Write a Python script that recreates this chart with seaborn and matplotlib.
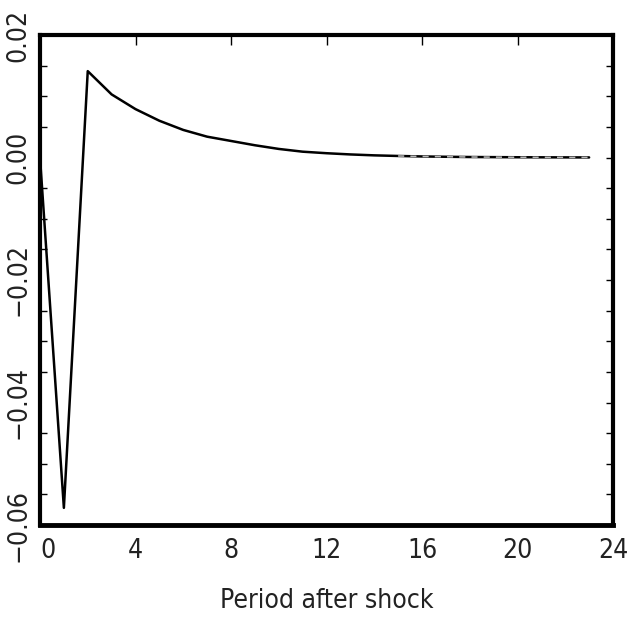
import numpy as np
import pandas as pd
import matplotlib
matplotlib.use("Agg")
import matplotlib.pyplot as plt
import seaborn as sns
from matplotlib.ticker import MultipleLocator, FixedLocator

# Data
periods = list(range(0, 24))
response = [0.0, -0.0572, 0.0141, 0.0103, 0.0079, 0.0060, 0.0045, 0.0034,
            0.0027, 0.0020, 0.0014, 0.00095, 0.0007, 0.0005, 0.00035, 0.00025,
            0.00017, 0.00012, 0.00008, 0.00006, 0.00004, 0.00003, 0.00002, 0.00001]
alt_periods = list(range(15, 24))
alt_response = [0.00025, 0.00017, 0.00012, 0.00008, 0.00006, 0.00004, 0.00003, 0.00002, 0.00001]
x_ticks = [0, 4, 8, 12, 16, 20, 24]
y_ticks = [-0.06, -0.04, -0.02, 0.00, 0.02]
y_labels = ["\u22120.06", "\u22120.04", "\u22120.02", "0.00", "0.02"]
x_label = "Period after shock"

sns.set_theme(style="white")
plt.rcParams['font.family'] = ['DejaVu Sans']

df = pd.DataFrame({"period": periods, "response": response})
df_alt = pd.DataFrame({"period": alt_periods, "response": alt_response})

fig = plt.figure(figsize=(6.37, 6.18), dpi=100)
ax = fig.add_axes([40/637, 93/618, 573/637, 490/618])

sns.lineplot(data=df, x="period", y="response", ax=ax, color="black", lw=1.8)
sns.lineplot(data=df_alt, x="period", y="response", ax=ax, color="#bbbbbb",
             lw=1.1, linestyle=(0, (4, 4)))

ax.set_xlim(0, 24)
ax.set_ylim(-0.06, 0.02)
ax.xaxis.set_major_locator(FixedLocator(x_ticks))
ax.yaxis.set_major_locator(FixedLocator(y_ticks))
ax.yaxis.set_minor_locator(MultipleLocator(0.005))

fp = dict(family="DejaVu Sans", fontsize=19, fontweight="light",
          fontstretch="condensed", color="#222222")
ax.set_xticklabels([str(v) for v in x_ticks], **fp)
ax.set_yticklabels(y_labels, rotation=90, va="center", **fp)
ax.get_xticklabels()[0].set_ha("left")
ax.set_xlabel(x_label, labelpad=18, **fp)
ax.set_ylabel("")

ax.tick_params(axis="both", which="both", direction="in", top=True, right=True,
               color="black", width=1.0)
ax.tick_params(axis="x", which="major", length=7, pad=9)
ax.tick_params(axis="y", which="major", length=5, pad=6)
ax.tick_params(axis="y", which="minor", length=5, left=True, right=True)

for side, w in [("left", 3.0), ("bottom", 3.5), ("top", 3.0), ("right", 3.0)]:
    ax.spines[side].set_visible(True)
    ax.spines[side].set_linewidth(w)
    ax.spines[side].set_color("black")

fig.savefig("out.png", dpi=100, facecolor="white")
